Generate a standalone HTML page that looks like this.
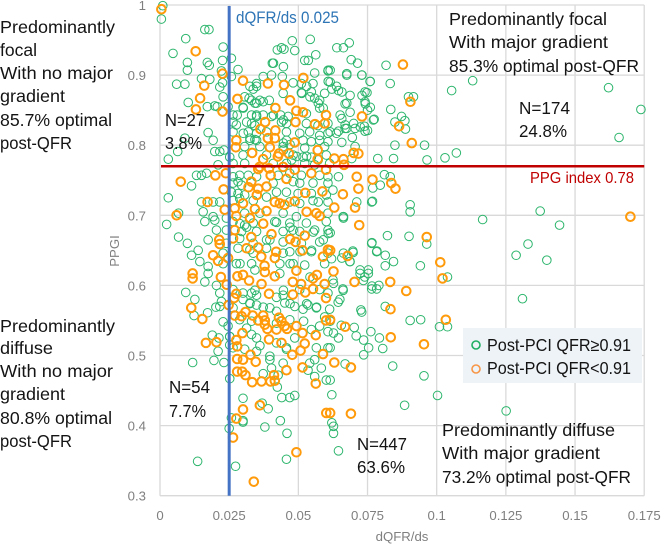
<!DOCTYPE html>
<html lang="en">
<head>
<meta charset="utf-8">
<title>PPGI vs dQFR/ds scatter</title>
<style>
html,body{margin:0;padding:0;background:#fff;}
svg{display:block;font-family:"Liberation Sans",sans-serif;}
.note{font-size:17.5px;fill:#141414;}
.tick{font-size:13.2px;fill:#7f7f7f;}
</style>
</head>
<body>
<svg id="chart" width="661" height="544" viewBox="0 0 661 544" xmlns="http://www.w3.org/2000/svg">
<g id="grid"></g>
<g id="ticks"></g>
<g id="greens"></g>
<g id="oranges"></g>
<g id="refs"></g>

<text x="402" y="541" text-anchor="middle" font-size="13.2" fill="#7f7f7f">dQFR/ds</text>
<text transform="translate(119,251) rotate(-90)" text-anchor="middle" font-size="13.2" fill="#7f7f7f">PPGI</text>

<text x="236" y="23" font-size="16.5" fill="#2e75b6" textLength="103" lengthAdjust="spacingAndGlyphs">dQFR/ds 0.025</text>
<text x="530" y="183" font-size="16" fill="#c00000" textLength="104" lengthAdjust="spacingAndGlyphs">PPG index 0.78</text>

<g class="note">
<text x="0" y="33" textLength="115" lengthAdjust="spacingAndGlyphs">Predominantly</text>
<text x="0" y="56" textLength="37" lengthAdjust="spacingAndGlyphs">focal</text>
<text x="0" y="79" textLength="113" lengthAdjust="spacingAndGlyphs">With no major</text>
<text x="0" y="102" textLength="65" lengthAdjust="spacingAndGlyphs">gradient</text>
<text x="0" y="126" textLength="112" lengthAdjust="spacingAndGlyphs">85.7% optimal</text>
<text x="0" y="149" textLength="72" lengthAdjust="spacingAndGlyphs">post-QFR</text>
</g>
<g class="note">
<text x="0" y="332" textLength="115" lengthAdjust="spacingAndGlyphs">Predominantly</text>
<text x="0" y="354" textLength="53" lengthAdjust="spacingAndGlyphs">diffuse</text>
<text x="0" y="377" textLength="113" lengthAdjust="spacingAndGlyphs">With no major</text>
<text x="0" y="400" textLength="65" lengthAdjust="spacingAndGlyphs">gradient</text>
<text x="0" y="424" textLength="112" lengthAdjust="spacingAndGlyphs">80.8% optimal</text>
<text x="0" y="447" textLength="72" lengthAdjust="spacingAndGlyphs">post-QFR</text>
</g>
<g class="note">
<text x="449" y="25" textLength="158" lengthAdjust="spacingAndGlyphs">Predominantly focal</text>
<text x="449" y="48" textLength="159" lengthAdjust="spacingAndGlyphs">With major gradient</text>
<text x="449" y="72" textLength="190" lengthAdjust="spacingAndGlyphs">85.3% optimal post-QFR</text>
</g>
<g class="note">
<text x="442" y="436" textLength="173" lengthAdjust="spacingAndGlyphs">Predominantly diffuse</text>
<text x="442" y="459" textLength="158" lengthAdjust="spacingAndGlyphs">With major gradient</text>
<text x="442" y="483" textLength="189" lengthAdjust="spacingAndGlyphs">73.2% optimal post-QFR</text>
</g>
<g class="note">
<text x="165" y="126" textLength="40" lengthAdjust="spacingAndGlyphs">N=27</text>
<text x="165" y="149" textLength="37" lengthAdjust="spacingAndGlyphs">3.8%</text>
</g>
<g class="note">
<text x="519" y="114" textLength="51" lengthAdjust="spacingAndGlyphs">N=174</text>
<text x="519" y="137" textLength="48" lengthAdjust="spacingAndGlyphs">24.8%</text>
</g>
<g class="note">
<text x="169" y="393" textLength="41" lengthAdjust="spacingAndGlyphs">N=54</text>
<text x="169" y="417" textLength="37" lengthAdjust="spacingAndGlyphs">7.7%</text>
</g>
<g class="note">
<text x="357" y="450" textLength="50" lengthAdjust="spacingAndGlyphs">N=447</text>
<text x="357" y="473" textLength="48" lengthAdjust="spacingAndGlyphs">63.6%</text>
</g>

<g>
<rect x="463" y="328" width="179" height="55" fill="#eef3f8"/>
<circle cx="476" cy="345" r="4" fill="none" stroke="#1fae62" stroke-width="1.6"/>
<text x="487" y="351" class="note" textLength="144" lengthAdjust="spacingAndGlyphs">Post-PCI QFR≥0.91</text>
<circle cx="476" cy="369" r="4" fill="none" stroke="#f79646" stroke-width="1.6"/>
<text x="487" y="374" class="note" textLength="144" lengthAdjust="spacingAndGlyphs">Post-PCI QFR&lt;0.91</text>
</g>
</svg>
<script>
const xTickValues = [0, 0.025, 0.05, 0.075, 0.1, 0.125, 0.15, 0.175];
const xTickLabels = ["0", "0.025", "0.05", "0.075", "0.1", "0.125", "0.15", "0.175"];
const yTickValues = [0.3, 0.4, 0.5, 0.6, 0.7, 0.8, 0.9, 1];
const yTickLabels = ["0.3", "0.4", "0.5", "0.6", "0.7", "0.8", "0.9", "1"];
const dqfrThreshold = 0.025;
const ppgThreshold = 0.77;

const suboptimalPoints = [
[.0005,.994],[.0129,.934],[.0226,.902],[.030,.892],[.039,.888],[.0448,.886],[.0518,.896],[.016,.885],[.0145,.867],[.028,.866],
[.047,.864],[.013,.851],[.0226,.848],[.0417,.853],[.0493,.849],[.0517,.847],[.06,.843],[.038,.833],[.049,.833],[.056,.83],
[.0595,.831],[.0363,.823],[.0417,.821],[.039,.81],[.0415,.81],[.0276,.807],[.0487,.804],[.0274,.797],[.0397,.797],[.0333,.789],
[.057,.793],[.043,.788],[.0466,.788],[.0373,.78],[.0426,.784],[.057,.78],[.036,.769],[.0355,.766],[.0394,.767],[.0445,.769],
[.0487,.765],[.06,.765],[.0547,.76],[.04,.757],[.0457,.752],[.02,.757],[.0238,.76],[.0075,.748],[.033,.748],[.032,.74],
[.0355,.738],[.0385,.741],[.035,.729],[.023,.737],[.0525,.732],[.0587,.734],[.0172,.719],[.0415,.719],[.0433,.717],[.045,.715],
[.0487,.72],[.03,.717],[.0234,.708],[.027,.71],[.0343,.709],[.0385,.706],[.006,.7],[.0276,.699],[.0325,.696],[.053,.705],
[.0565,.703],[.0577,.699],[.0373,.688],[.027,.679],[.0403,.673],[.0523,.671],[.047,.666],[.049,.662],[.033,.669],[.0264,.667],
[.0214,.665],[.0216,.659],[.0313,.653],[.0355,.654],[.0607,.651],[.042,.648],[.0192,.643],[.021,.635],[.0366,.641],[.0415,.639],
[.0515,.65],[.0589,.641],[.0246,.639],[.0378,.628],
[.0118,.617],[.0118,.61],[.022,.612],[.028,.613],[.03,.615],[.0322,.607],[.0367,.602],[.0415,.613],[.048,.605],[.051,.602],
[.0553,.61],[.0567,.615],[.0595,.602],[.0493,.621],[.0379,.619],[.0241,.601],[.0276,.588],[.0268,.582],[.0394,.588],[.048,.587],
[.0525,.59],[.0553,.595],[.06,.582],[.0248,.572],[.0113,.568],[.0153,.552],[.027,.557],[.0295,.556],[.0309,.562],[.0335,.557],
[.0373,.557],[.0355,.55],[.0379,.55],[.043,.554],[.0439,.549],[.0379,.544],[.0388,.538],[.0421,.537],[.0451,.542],[.0459,.538],
[.0493,.542],[.0515,.532],[.0563,.529],[.0298,.532],[.06,.55],[.0166,.518],[.0204,.519],[.0276,.522],[.0279,.513],[.0394,.523],
[.0439,.518],[.0523,.517],[.0508,.507],[.0327,.501],[.0478,.501],[.0589,.502],[.0279,.495],[.03,.494],[.0346,.491],[.0515,.483],
[.0457,.479],[.0279,.477],[.0297,.477],[.0309,.472],[.0412,.472],[.0333,.462],[.0367,.463],[.0399,.463],[.0415,.464],[.0563,.46],
[.0361,.429],[.03,.423],[.0276,.41],[.0601,.418],[.0264,.383],[.0493,.362],[.0339,.32],
[.0878,.915],[.0905,.862],[.073,.841],[.0864,.827],[.091,.803],[.063,.781],[.0663,.78],[.0665,.772],[.07,.789],[.0717,.788],
[.0711,.755],[.0768,.751],[.0836,.746],[.0851,.738],[.0717,.738],[.0661,.73],[.063,.711],[.0705,.711],[.072,.686],[.0964,.669],
[.1013,.633],[.170,.698],[.0678,.642],[.0615,.65],
[.0627,.62],[.0703,.605],[.0832,.605],[.089,.592],[.1021,.61],[.0833,.566],[.1033,.551],[.0669,.541],[.0615,.551],[.0834,.526],
[.0954,.516],[.063,.49],[.069,.483],[.069,.417],[.0615,.418]
];

const optimalPoints = [
[.001,.999],[.0005,.98],[.0162,.965],[.0177,.965],[.0093,.952],[.0047,.931],[.0228,.94],[.0099,.918],[.0099,.907],[.0171,.918],
[.0178,.914],[.0226,.921],[.0258,.924],[.0478,.949],[.0543,.951],[.0424,.936],[.0439,.939],[.0448,.937],[.0487,.935],[.0563,.929],
[.0406,.917],[.0523,.921],[.006,.887],[.009,.887],[.015,.895],[.018,.894],[.0222,.906],[.0226,.889],[.0216,.883],[.0228,.869],
[.0282,.908],[.0258,.898],[.0102,.861],[.0171,.855],[.0198,.856],[.0207,.855],[.0246,.855],[.0306,.869],[.0322,.867],[.0349,.884],
[.0337,.88],[.0373,.898],[.0403,.9],[.0442,.898],[.0481,.889],[.0511,.888],[.0553,.888],[.0559,.903],[.0607,.906],[.0331,.864],
[.03,.854],[.0361,.864],[.0349,.86],[.0395,.864],[.0445,.874],[.0511,.875],[.0547,.876],[.0559,.867],[.0577,.864],[.0595,.874],
[.0264,.843],[.0279,.843],[.0331,.843],[.0349,.841],[.0373,.843],[.0403,.841],[.0436,.843],[.0463,.841],[.0529,.845],[.0577,.853],
[.0264,.833],[.0276,.829],[.0313,.833],[.0343,.828],[.0439,.833],[.0457,.831],[.0529,.831],[.0571,.828],[.0607,.831],
[.0174,.818],[.0264,.819],[.0319,.819],[.0349,.817],[.0385,.819],[.0457,.819],[.0505,.817],[.0541,.819],[.0577,.814],[.0607,.817],
[.009,.81],[.0192,.807],[.0325,.807],[.0349,.807],[.0457,.807],[.0517,.807],[.0547,.805],[.0577,.807],[.0607,.805],
[.0064,.791],[.0198,.791],[.0216,.791],[.0231,.793],[.0306,.798],[.0361,.798],[.0445,.798],[.0523,.796],[.0595,.798],
[.0252,.783],[.03,.786],[.0385,.786],[.0481,.786],[.0517,.783],[.0547,.783],[.0601,.786],[.003,.78],
[.021,.772],[.0264,.774],[.0306,.774],[.0409,.774],[.0457,.774],[.0523,.774],[.0559,.772],[.0613,.774],
[.0132,.757],[.015,.757],[.0168,.76],[.0264,.755],[.0288,.757],[.0319,.757],[.0349,.755],[.0427,.757],[.0469,.76],[.0511,.757],[.0577,.757],[.0607,.755],
[.0114,.742],[.0264,.746],[.0282,.748],[.0295,.743],[.0409,.746],[.0481,.748],[.0505,.746],[.0553,.746],[.0607,.746],
[.003,.725],[.0258,.733],[.0282,.731],[.0306,.729],[.0385,.726],[.0421,.733],[.0457,.733],[.0499,.731],[.0547,.731],[.0601,.729],
[.015,.719],[.0192,.719],[.0216,.719],[.0264,.721],[.0288,.724],[.0337,.721],[.0469,.719],[.0505,.717],[.0553,.721],[.0607,.719],
[.0067,.703],[.0156,.705],[.0192,.698],[.024,.696],[.0306,.703],[.0361,.703],[.0445,.703],[.0493,.698],[.0607,.703],
[.0024,.687],[.0162,.691],[.0198,.693],[.0264,.691],[.0306,.686],[.0337,.689],[.0415,.691],[.0469,.689],[.0529,.689],[.0601,.691],
[.0204,.679],[.024,.679],[.0295,.677],[.0349,.677],[.0445,.677],[.0481,.679],[.0505,.677],[.0559,.679],[.0607,.679],
[.0067,.669],[.0099,.66],[.0174,.665],[.024,.66],[.0288,.667],[.0337,.66],[.0385,.665],[.0445,.662],[.0511,.66],[.0577,.662],
[.0138,.65],[.0114,.643],[.0144,.634],[.0228,.646],[.0282,.653],[.0337,.646],[.0385,.653],[.0445,.646],[.0469,.648],[.0547,.648],[.0607,.646],
[.0174,.627],[.0228,.631],[.0276,.631],[.0331,.631],[.0433,.631],[.0481,.631],[.0523,.629],[.0595,.631],
[.0639,.939],[.0663,.939],[.0684,.946],[.0691,.922],[.0714,.917],[.0817,.914],[.0615,.907],[.0675,.902],[.073,.9],[.076,.891],[.0832,.888],
[.113,.892],[.1054,.878],[.1621,.882],[.1738,.851],[.1659,.811],[.0615,.89],[.0621,.88],[.0645,.878],[.0657,.876],[.0687,.871],[.073,.871],[.0748,.875],
[.0669,.859],[.0687,.847],[.0742,.859],[.076,.854],[.075,.85],[.0898,.869],[.0916,.869],[.0834,.851],[.0651,.843],[.0657,.838],[.0774,.837],[.0849,.833],[.0873,.841],[.0885,.835],
[.0669,.829],[.0669,.824],[.07,.831],[.0724,.826],[.0739,.827],[.075,.821],[.0887,.823],[.0645,.82],[.0695,.811],[.0657,.804],[.0615,.819],
[.0849,.8],[.0956,.8],[.0705,.798],[.0787,.781],[.0844,.781],[.0965,.779],[.103,.782],[.1071,.789],[.0693,.781],
[.0645,.755],[.0811,.758],[.0832,.755],[.0796,.743],[.0769,.739],[.0625,.736],[.0711,.719],[.0768,.72],[.0904,.715],[.0904,.705],[.0663,.698],[.0663,.696],[.0615,.675],
[.1166,.694],[.1374,.706],[.1444,.686],[.0822,.671],[.09,.67],[.0964,.659],[.0766,.661],[.0784,.649],[.0814,.643],[.0844,.634],[.0941,.628],
[.133,.659],[.1287,.643],[.1398,.636],[.0663,.646],[.0697,.649],[.0687,.634],[.0657,.639],[.0723,.622],[.0753,.622],[.0814,.628],
[.074,.612],[.0625,.608],[.0627,.603],[.0661,.595],[.0766,.599],[.0791,.6],[.1039,.612],[.065,.58],[.131,.581],[.0814,.57],[.0726,.565],
[.0904,.55],[.0942,.551],[.101,.541],[.1039,.541],[.0615,.549],[.0655,.543],[.0702,.54],[.0627,.532],[.0645,.525],[.0709,.528],[.0762,.534],[.0736,.522],[.0793,.525],[.0754,.511],[.0805,.51],[.0736,.501],[.0615,.511],
[.0669,.488],[.0841,.485],[.0954,.471],[.0615,.465],[.0621,.444],[.1003,.443],[.0884,.429],[.1251,.421],[.0621,.404],[.0627,.399],[.0627,.389],[.0645,.364],
[.0093,.59],[.0126,.58],[.0123,.557],[.0172,.561],[.0162,.605],[.0174,.617],[.0204,.6],[.0202,.569],[.0216,.57],[.0228,.548],[.0246,.542],[.0189,.529],[.0213,.525],[.021,.506],[.0195,.493],[.0231,.49],[.0118,.49],[.0252,.467],[.0252,.515],[.0252,.527],
[.0258,.411],[.03,.407],[.03,.405],[.025,.396],[.03,.439],[.0369,.432],[.0391,.424],[.0379,.398],[.0435,.407],[.0459,.389],[.044,.44],[.0469,.44],[.0487,.443],[.0136,.349],[.0273,.342],[.0457,.352],[.0424,.455],
[.0216,.589],[.0264,.594],[.03,.589],[.0331,.589],[.0349,.586],[.0445,.586],[.0505,.594],[.0577,.594],[.0607,.589],
[.0222,.577],[.03,.58],[.0325,.575],[.0349,.572],[.0451,.575],[.0487,.57],[.0535,.572],[.0565,.568],[.0613,.566],
[.0264,.568],[.0397,.568],[.0421,.563],[.0517,.566],[.0595,.555],
[.0288,.551],[.0331,.549],[.0421,.546],[.0469,.551],[.0519,.549],
[.0252,.527],[.0313,.539],[.0349,.525],[.0331,.53],[.0487,.525],[.0547,.537],[.0577,.542],[.0607,.534],
[.0264,.511],[.0306,.509],[.0361,.514],[.0421,.518],[.0457,.511],[.0565,.511],[.0607,.511],
[.0349,.506],[.0397,.499],[.0457,.509],[.0397,.494],[.0445,.489],[.0559,.494],[.0541,.489],
[.0403,.482],[.0373,.474],[.0535,.479],[.0583,.482],[.0559,.47],[.0601,.465],[.0427,.472],
[.0325,.81],[.0343,.808],[.0446,.803],[.047,.801],[.0494,.784],[.053,.784],[.0572,.779],[.0446,.793],[.0476,.779],[.0446,.836],[.041,.843],[.0349,.843],[.0331,.831],[.0301,.817],
[.0608,.891],[.0638,.884],[.053,.884],[.0542,.869],[.0572,.86],[.059,.853],[.0675,.824],[.0705,.824],[.0741,.82],[.0675,.86],[.0741,.862],[.0771,.836],[.0638,.817],[.0512,.874],
[.041,.917],[.0446,.912],[.0536,.921],[.0608,.907],[.0675,.9],[.0729,.9],[.0759,.891],[.0741,.876],[.0608,.891],[.0325,.884],[.0349,.888],[.0373,.862],[.0343,.86],[.0301,.853],
[.0289,.688],[.0313,.683],[.0421,.69],[.047,.683],[.0554,.676],[.0608,.674],[.059,.665],[.0397,.665],[.0325,.651],[.0289,.631],[.0343,.622],[.0433,.617],[.047,.631],[.0506,.648],[.0548,.65],[.062,.638],
[.0686,.634],[.0698,.647],[.0765,.66],[.0783,.648],[.0723,.617],[.0753,.617],[.0735,.607],[.0765,.595],[.0783,.595],[.0662,.593],[.0644,.576],[.0566,.569],[.0729,.562],[.047,.574],[.0421,.583],[.0343,.593],[.0325,.574],[.0446,.593],[.0542,.612],[.0572,.719],[.0662,.698],[.0765,.719],[.0373,.569],[.053,.574]
];

const SVG_NS = "http://www.w3.org/2000/svg";
const xScale = v => 160 + v * 2767;
const yScale = v => 5 + (1 - v) * 701;

function make(tag, attrs, parent, text) {
  const el = document.createElementNS(SVG_NS, tag);
  for (const k in attrs) el.setAttribute(k, attrs[k]);
  if (text !== undefined) el.textContent = text;
  parent.appendChild(el);
  return el;
}

const grid = document.getElementById("grid");
const ticks = document.getElementById("ticks");
xTickValues.forEach((v, i) => {
  const line = make("line", {x1: xScale(v), x2: xScale(v), y1: yScale(1), y2: yScale(0.3), stroke: "#d9d9d9", "stroke-width": 1.3}, grid);
  
  
  const label = make("text", {x: xScale(v), y: 520, "text-anchor": "middle", class: "tick"}, ticks, xTickLabels[i]);
  
  
});
yTickValues.forEach((v, i) => {
  const line = make("line", {x1: xScale(0), x2: xScale(0.175), y1: yScale(v), y2: yScale(v), stroke: "#d9d9d9", "stroke-width": 1.3}, grid);
  
  
  const label = make("text", {x: 146, y: yScale(v) + 5, "text-anchor": "end", class: "tick"}, ticks, yTickLabels[i]);
  
  
});

const greens = document.getElementById("greens");
optimalPoints.forEach(p => {
  const c = make("circle", {cx: xScale(p[0]), cy: yScale(p[1]), r: 4.3, fill: "none", stroke: "#2cb56c", "stroke-width": 1}, greens);
  
  
});
const oranges = document.getElementById("oranges");
suboptimalPoints.forEach(p => {
  const c = make("circle", {cx: xScale(p[0]), cy: yScale(p[1]), r: 4.3, fill: "none", stroke: "#ff9a0a", "stroke-width": 2}, oranges);
  
  
});

const refs = document.getElementById("refs");
const blue = make("line", {x1: xScale(dqfrThreshold), x2: xScale(dqfrThreshold), y1: 6, y2: yScale(0.3), stroke: "#4472c4", "stroke-width": 3}, refs);


const red = make("line", {x1: 161, x2: xScale(0.175), y1: yScale(ppgThreshold), y2: yScale(ppgThreshold), stroke: "#c00000", "stroke-width": 2.5}, refs);


</script>
</body>
</html>
